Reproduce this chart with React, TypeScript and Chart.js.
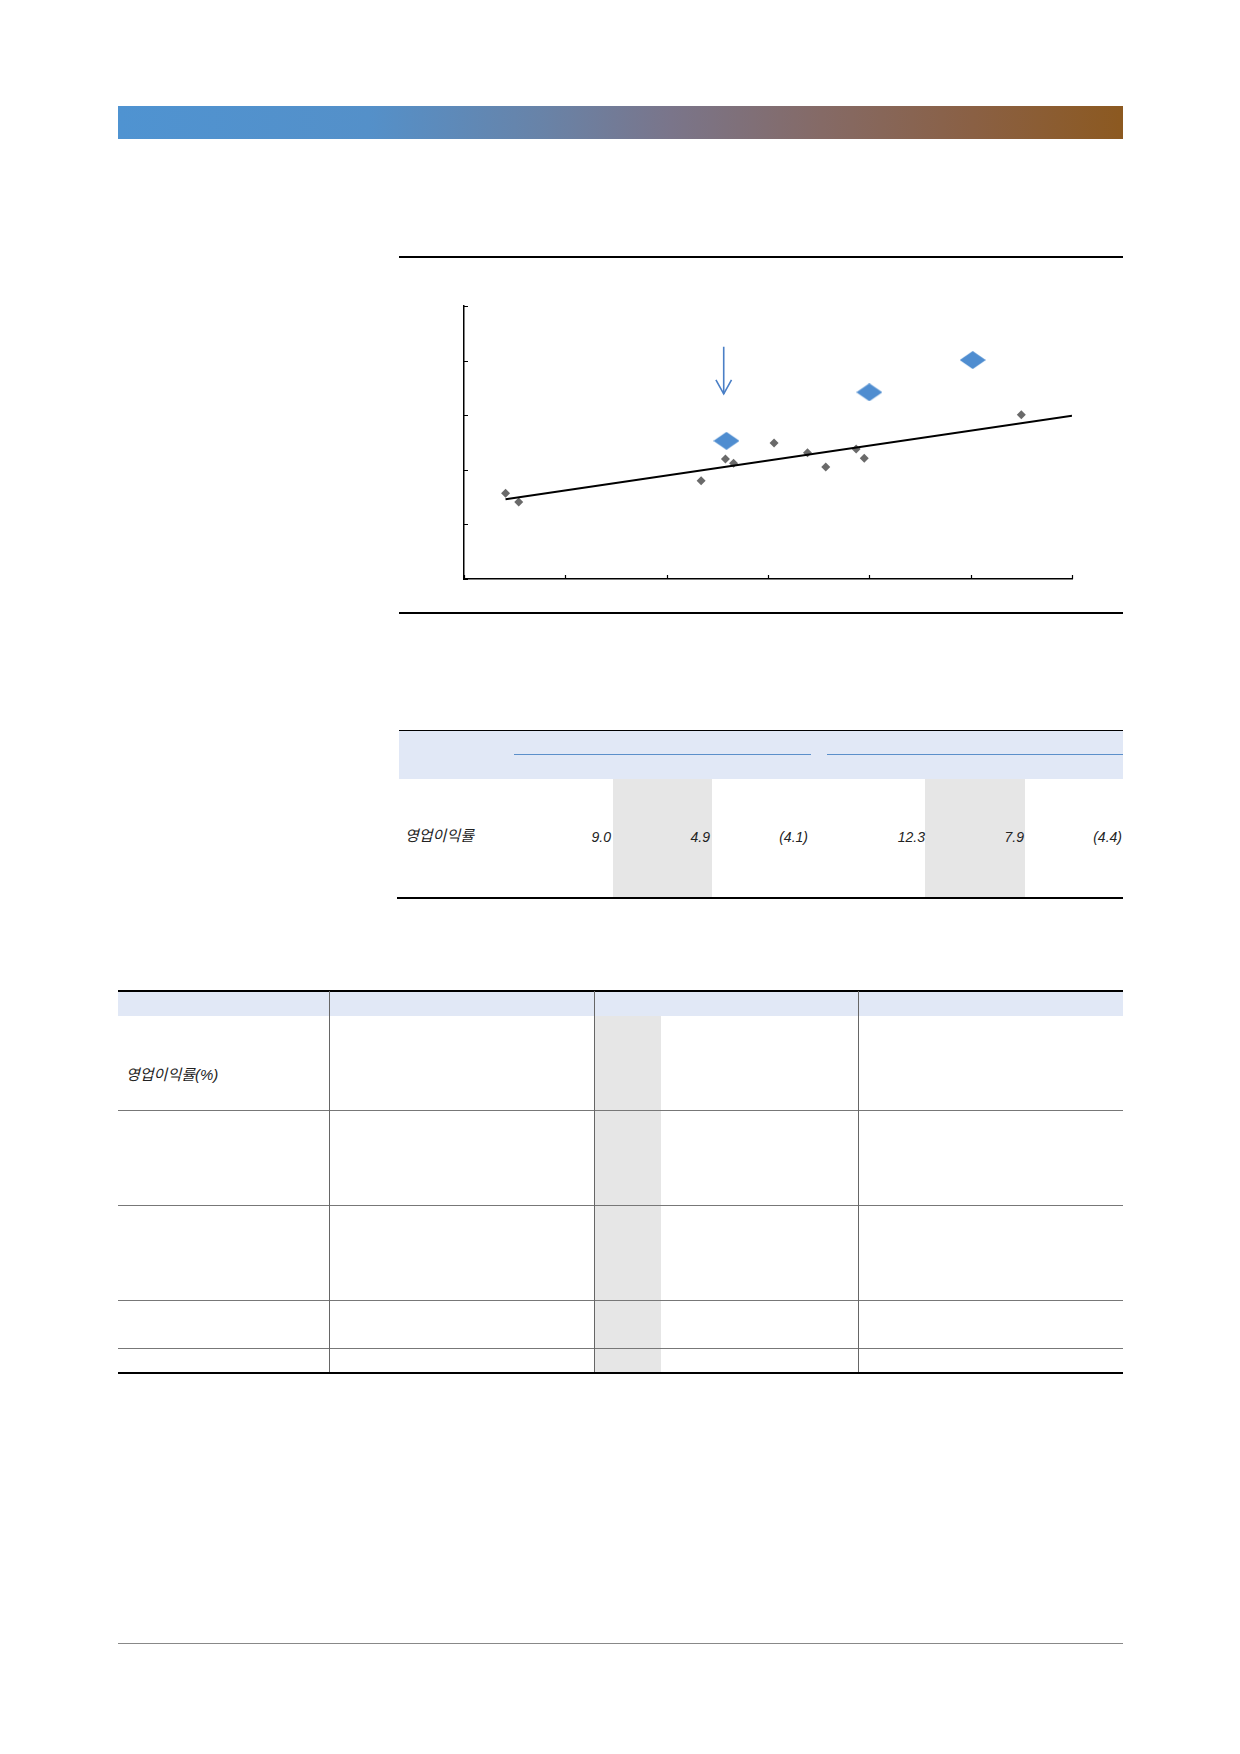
import React, { useEffect, useRef } from "react";
import { Chart, registerables } from "chart.js";

Chart.register(...registerables);

// ---- chart data (axis units arbitrary, no labels shown) ----
const xTicksMax = 6;
const yTicksMax = 5;
const grayX = [0.41, 0.54, 2.34, 2.58, 2.66, 3.06, 3.39, 3.57, 3.87, 3.95, 5.5];
const grayY = [1.57, 1.41, 1.8, 2.2, 2.12, 2.49, 2.31, 2.05, 2.38, 2.21, 3.01];
const blueX = [2.59, 4.0, 5.02];
const blueY = [2.53, 3.42, 4.01];
const trendX = [0.41, 6.0];
const trendY = [1.46, 2.99];
const arrowShaftX = [2.563, 2.563];
const arrowShaftY = [4.255, 3.39];
const arrowHeadX = [2.486, 2.563, 2.64];
const arrowHeadY = [3.645, 3.39, 3.645];

// ---- table data ----
const table1Label = "영업이익률";
const table1Values = ["9.0", "4.9", "(4.1)", "12.3", "7.9", "(4.4)"];
const table2Label = "영업이익률(%)";

const zip = (xs: number[], ys: number[]) => xs.map((x, i) => ({ x, y: ys[i] }));

const inwardTicks = {
  id: "inwardTicks",
  afterDraw(chart: any) {
    const { ctx, chartArea } = chart;
    const xs = chart.scales.x;
    const ys = chart.scales.y;
    ctx.save();
    ctx.strokeStyle = "#000";
    ctx.lineWidth = 1.2;
    ctx.beginPath();
    xs.ticks.forEach((t: any) => {
      const px = Math.round(xs.getPixelForValue(t.value)) + 0.5;
      ctx.moveTo(px, chartArea.bottom);
      ctx.lineTo(px, chartArea.bottom - 4);
    });
    ys.ticks.forEach((t: any) => {
      const py = Math.round(ys.getPixelForValue(t.value)) + 0.5;
      ctx.moveTo(chartArea.left, py);
      ctx.lineTo(chartArea.left + 4, py);
    });
    ctx.stroke();
    ctx.restore();
  },
};

function ScatterChart() {
  const ref = useRef<HTMLCanvasElement | null>(null);
  useEffect(() => {
    if (!ref.current) return;
    const diamond = document.createElement("canvas");
    diamond.width = 26;
    diamond.height = 18;
    const dctx = diamond.getContext("2d")!;
    dctx.fillStyle = "#4F8DD0";
    dctx.beginPath();
    dctx.moveTo(0, 9);
    dctx.lineTo(13, 0);
    dctx.lineTo(26, 9);
    dctx.lineTo(13, 18);
    dctx.closePath();
    dctx.fill();

    const chart = new Chart(ref.current, {
      type: "scatter",
      data: {
        datasets: [
          {
            data: zip(trendX, trendY),
            showLine: true,
            borderColor: "#000",
            borderWidth: 2,
            pointRadius: 0,
          } as any,
          {
            data: zip(arrowShaftX, arrowShaftY),
            showLine: true,
            borderColor: "#4A7FC6",
            borderWidth: 1.6,
            pointRadius: 0,
          },
          {
            data: zip(arrowHeadX, arrowHeadY),
            showLine: true,
            borderColor: "#4A7FC6",
            borderWidth: 1.6,
            pointRadius: 0,
          },
          {
            data: zip(blueX, blueY),
            pointStyle: diamond as any,
            pointRadius: 10,
          },
          {
            data: zip(grayX, grayY),
            pointStyle: "rectRot",
            pointRadius: 4.5,
            backgroundColor: "#6A6A6A",
            borderWidth: 0,
          },
        ],
      },
      options: {
        animation: false,
        responsive: false,
        events: [],
        layout: { padding: { top: 48, right: 50, left: 0, bottom: 0 } },
        plugins: { legend: { display: false }, tooltip: { enabled: false } },
        scales: {
          x: {
            type: "linear",
            min: 0,
            max: xTicksMax,
            ticks: { display: false, stepSize: 1 },
            grid: { display: false },
            border: { display: true, color: "#000", width: 1.5 },
            afterFit: (s: any) => {
              s.height = 35;
            },
          },
          y: {
            type: "linear",
            min: 0,
            max: yTicksMax,
            ticks: { display: false, stepSize: 1 },
            grid: { display: false },
            border: { display: true, color: "#000", width: 1.5 },
            afterFit: (s: any) => {
              s.width = 64;
            },
          },
        },
      },
      plugins: [inwardTicks],
    });
    return () => chart.destroy();
  }, []);
  return <canvas ref={ref} width={722} height={356} style={{ display: "block" }} />;
}

const abs = (left: number, top: number, width: number, height: number, extra: React.CSSProperties = {}): React.CSSProperties => ({
  position: "absolute",
  left,
  top,
  width,
  height,
  ...extra,
});

const textFont: React.CSSProperties = {
  fontFamily: '"Liberation Sans", "Noto Sans CJK KR", sans-serif',
  fontStyle: "italic",
  fontSize: 14,
  color: "#222",
  lineHeight: "16px",
  whiteSpace: "nowrap",
};

const labelFont: React.CSSProperties = { ...textFont, fontSize: 15 };

export default function App() {
  const t1Right = [611, 710, 808, 925, 1024, 1122];
  const t2RowLines = [1110, 1205, 1300, 1348];
  const t2ColLines = [329, 594, 858];
  return (
    <div style={{ position: "absolute", left: 0, top: 0, width: 1240, height: 1754, background: "#fff" }}>
      {/* header gradient bar */}
      <div
        style={abs(118, 106, 1005, 33, {
          background:
            "linear-gradient(to right, #4F93D1 0%, #5490C9 25%, #6883A8 42%, #7A758A 55%, #856A66 70%, #8A6044 85%, #8C5920 100%)",
        })}
      />

      {/* chart section rules */}
      <div style={abs(399, 256, 724, 2, { background: "#000", zIndex: 2 })} />
      <div style={abs(399, 612, 724, 2, { background: "#000", zIndex: 2 })} />
      <div style={abs(400, 258, 722, 356)}>
        <ScatterChart />
      </div>

      {/* table 1 */}
      <div style={abs(399, 731, 724, 48, { background: "#E1E8F6" })} />
      <div style={abs(399, 730, 724, 1, { background: "#000" })} />
      <div style={abs(514, 754, 297, 1, { background: "#5B8FCA" })} />
      <div style={abs(827, 754, 296, 1, { background: "#5B8FCA" })} />
      <div style={abs(613, 779, 99, 119, { background: "#E6E6E6" })} />
      <div style={abs(925, 779, 100, 119, { background: "#E6E6E6" })} />
      <div style={abs(397, 897, 726, 2, { background: "#000" })} />
      <div style={abs(405, 828, 120, 16, labelFont)}>{table1Label}</div>
      {table1Values.map((v, i) => (
        <div key={i} style={abs(t1Right[i] - 80, 829, 80, 16, { ...textFont, textAlign: "right" })}>
          {v}
        </div>
      ))}

      {/* table 2 */}
      <div style={abs(118, 992, 1005, 24, { background: "#E1E8F6" })} />
      <div style={abs(594, 1016, 67, 357, { background: "#E6E6E6" })} />
      <div style={abs(118, 990, 1005, 2, { background: "#000" })} />
      {t2RowLines.map((y, i) => (
        <div key={i} style={abs(118, y, 1005, 1, { background: "#777" })} />
      ))}
      {t2ColLines.map((x, i) => (
        <div key={i} style={abs(x, 991, 1, 382, { background: "#666" })} />
      ))}
      <div style={abs(118, 1372, 1005, 2, { background: "#000" })} />
      <div style={abs(126, 1067, 150, 16, labelFont)}>{table2Label}</div>

      {/* footer rule */}
      <div style={abs(118, 1643, 1005, 1, { background: "#888" })} />
    </div>
  );
}
